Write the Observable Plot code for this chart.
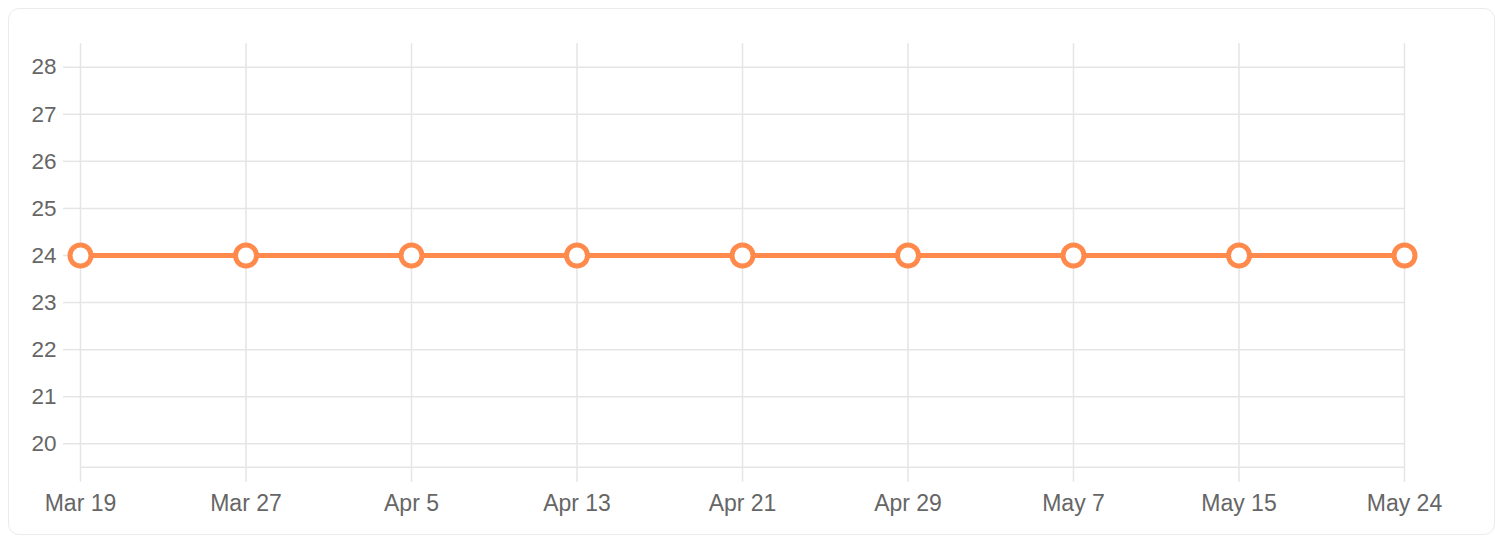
<!DOCTYPE html>
<html>
<head>
<meta charset="utf-8">
<script src="https://cdn.jsdelivr.net/npm/d3@7"></script>
<script src="https://cdn.jsdelivr.net/npm/@observablehq/plot@0.6"></script>
<style>
  html, body { margin: 0; padding: 0; background: #ffffff; }
  #wrap { position: relative; width: 1504px; height: 538px; overflow: hidden; }
  #card {
    position: absolute; left: 8px; top: 8px; width: 1487px; height: 527px;
    border: 1px solid #ebebeb; border-radius: 11px; background: #fff;
    box-sizing: border-box;
  }
  #chart { position: absolute; left: 0; top: 0; }
  #chart svg { font-family: "Liberation Sans", Arial, Helvetica, sans-serif; }
</style>
</head>
<body>
<div id="wrap"><div id="card"></div><div id="chart"></div></div>
<script>
const labels = ["Mar 19", "Mar 27", "Apr 5", "Apr 13", "Apr 21", "Apr 29", "May 7", "May 15", "May 24"];
const values = [24, 24, 24, 24, 24, 24, 24, 24, 24];
const yTicks = [20, 21, 22, 23, 24, 25, 26, 27, 28];

const data = labels.map((d, i) => ({label: d, value: values[i]}));
const grid = "#e5e5e5";
const orange = "#ff8a4c";

const chart = Plot.plot({
  width: 1504,
  height: 538,
  marginLeft: 80,
  marginRight: 100,
  marginTop: 43.2,
  marginBottom: 71.2,
  style: {background: "transparent", fontFamily: "'Liberation Sans', Arial, Helvetica, sans-serif"},
  x: {type: "point", domain: labels, padding: 0, range: [80, 1404], round: false},
  y: {domain: [19.5, 28.5]},
  marks: [
    Plot.gridY(yTicks, {stroke: grid, strokeOpacity: 1, strokeWidth: 1.5}),
    Plot.gridX(labels, {stroke: grid, strokeOpacity: 1, strokeWidth: 1.5}),
    Plot.ruleY([19.5], {stroke: grid, strokeWidth: 1.5}),
    Plot.axisY(yTicks, {tickSize: 17, tickPadding: 7, stroke: grid, strokeOpacity: 1, strokeWidth: 1.5, fill: "#666", fontSize: 22.5, label: null, tickFormat: d => String(d)}),
    Plot.axisX(labels, {tickSize: 15, tickPadding: 12, stroke: grid, strokeOpacity: 1, strokeWidth: 1.5, fill: "#666", fontSize: 23, label: null}),
    Plot.line(data, {x: "label", y: "value", stroke: orange, strokeWidth: 5}),
    Plot.dot(data, {x: "label", y: "value", r: 10.5, stroke: orange, strokeWidth: 5, fill: "#fff"})
  ]
});
document.getElementById("chart").appendChild(chart);
</script>
</body>
</html>
